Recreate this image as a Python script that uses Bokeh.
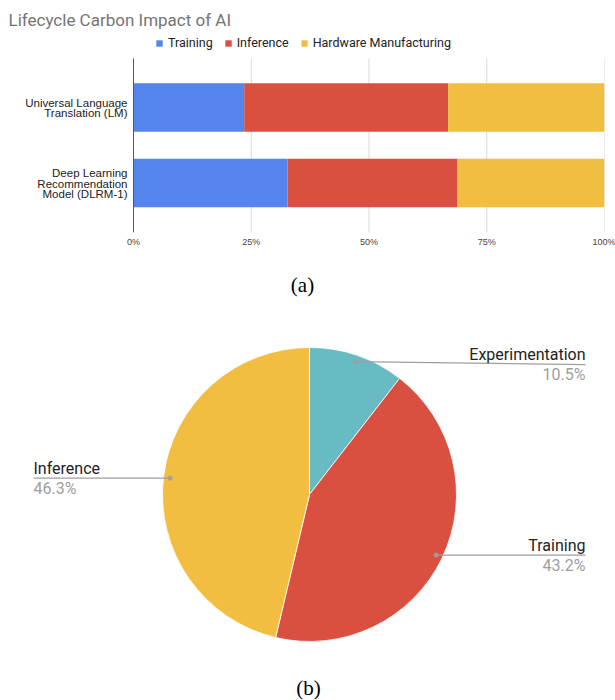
import numpy as np
from bokeh.plotting import figure
from bokeh.models import (Range1d, FixedTicker, Legend, LegendItem,
                          ColumnDataSource)
from bokeh.embed import file_html
from bokeh.resources import INLINE
from bokeh.core.properties import value

# ---------------- data ----------------
title_text = "Lifecycle Carbon Impact of AI"
model_keys = ["ULT", "DLRM"]
model_lines = [["Universal Language", "Translation (LM)"],
               ["Deep Learning", "Recommendation", "Model (DLRM-1)"]]
stages = ["Training", "Inference", "Hardware Manufacturing"]
training = [23.5, 32.7]
inference = [43.3, 36.1]
hardware = [33.2, 31.2]
stage_colors = ["#5484EC", "#DA5040", "#F1BE42"]
tick_values = [0, 25, 50, 75, 100]
tick_labels = ["0%", "25%", "50%", "75%", "100%"]

pie_labels = ["Experimentation", "Training", "Inference"]
pie_values = [10.5, 43.2, 46.3]
pie_colors = ["#68BBC2", "#DA5040", "#F1BE42"]

# ---------------- figure (a) ----------------
W1, H1 = 615, 300
bar_px = 471            # pixels spanned by 0..100 %
label_px = 133          # room left of 0 % for category names
frame_top, frame_bottom = 30, 232
band_px = 75.5          # pixels per category band
first_center_px = 107   # screen y of first category centre
px_per_unit = bar_px / 100.0
x_start = -label_px / px_per_unit

n_cat = len(model_keys)
cat_pos = [n_cat - 1 - i for i in range(n_cat)]          # top to bottom
top_val = cat_pos[0] + (first_center_px - frame_top) / band_px
bot_val = top_val - (frame_bottom - frame_top) / band_px

src = ColumnDataSource(dict(model=model_keys, pos=cat_pos, Training=training,
                            Inference=inference, Hardware=hardware))

p1 = figure(width=W1, height=H1, output_backend="svg", toolbar_location=None,
            x_range=Range1d(x_start, 100), y_range=Range1d(bot_val, top_val),
            min_border_left=0, min_border_right=W1 - label_px - bar_px,
            min_border_top=frame_top, min_border_bottom=H1 - frame_bottom)
p1.outline_line_color = None
renderers = p1.hbar_stack(["Training", "Inference", "Hardware"], y="pos",
                          height=0.645, color=stage_colors, source=src,
                          line_color=None)

# category names (one row per text line)
tx, ty, toff, ttxt = [], [], [], []
for pos, lines in zip(cat_pos, model_lines):
    n = len(lines)
    for i, line in enumerate(lines):
        tx.append(-6 / px_per_unit)
        ty.append(pos)
        toff.append((i - (n - 1) / 2) * 10.9 + 0.5)
        ttxt.append(line)
p1.text(x=tx, y=ty, text=ttxt, y_offset=toff, text_align="right",
        text_baseline="middle", text_font=value("Liberation Sans"),
        text_font_size="11.5px", text_color="#222222")

# chart area proper starts at the top gridline level (below the legend row)
area_top = cat_pos[0] + (first_center_px - 58) / band_px
p1.segment(x0=[0], y0=[bot_val], x1=[0], y1=[area_top],
           line_color="#555555", line_width=1)
p1.segment(x0=tick_values[1:], y0=[bot_val] * 4, x1=tick_values[1:],
           y1=[area_top] * 4, line_color="#D9D9D9", line_width=1, level="underlay")

p1.yaxis.visible = False
p1.xaxis.ticker = FixedTicker(ticks=tick_values)
p1.xaxis.major_label_overrides = {v: l for v, l in zip(tick_values, tick_labels)}
p1.xaxis.axis_line_color = None
p1.xaxis.major_tick_line_color = None
p1.xaxis.minor_tick_line_color = None
p1.xaxis.major_tick_out = 0
p1.xaxis.major_tick_in = 0
p1.xaxis.minor_tick_out = 0
p1.xaxis.major_label_text_font = "Liberation Sans"
p1.xaxis.major_label_text_font_size = "9px"
p1.xaxis.major_label_text_color = "#444444"
p1.xaxis.major_label_standoff = 4
p1.xaxis.axis_label = "(a)"
p1.xaxis.axis_label_text_font = "Liberation Serif"
p1.xaxis.axis_label_text_font_size = "21px"
p1.xaxis.axis_label_text_font_style = "normal"
p1.xaxis.axis_label_text_color = "#000000"
p1.xaxis.axis_label_standoff = 23

p1.grid.visible = False

p1.title.text = title_text
p1.title.text_font = "Roboto"
p1.title.text_font_size = "17px"
p1.title.text_font_style = "normal"
p1.title.text_color = "#757575"
p1.title.offset = 8
p1.title.standoff = 2

legend = Legend(items=[LegendItem(label=s, renderers=[r]) for s, r in zip(stages, renderers)],
                orientation="horizontal",
                location=(155, frame_bottom - 50),
                label_text_font="Roboto", label_text_font_size="12.5px",
                label_text_color="#222222", glyph_width=8, glyph_height=8,
                label_height=14, label_standoff=5, spacing=11, padding=0,
                margin=0, border_line_color=None, background_fill_alpha=0)
p1.add_layout(legend)

# ---------------- figure (b) ----------------
W2, H2 = 615, 400
cx, cy, r = 309, 206, 147
fr = np.array(pie_values) / np.sum(pie_values)
cum = np.concatenate([[0], np.cumsum(fr)])
starts = np.pi / 2 - 2 * np.pi * cum[:-1]
ends = np.pi / 2 - 2 * np.pi * cum[1:]
mids = (starts + ends) / 2

p2 = figure(width=W2, height=H2, output_backend="svg", toolbar_location=None,
            x_range=Range1d(0, W2), y_range=Range1d(0, H2), min_border=0)
p2.axis.visible = False
p2.grid.visible = False
p2.outline_line_color = None

p2.wedge(x=cx, y=cy, radius=r, start_angle=starts, end_angle=ends,
         direction="clock", fill_color=pie_colors, line_color="white",
         line_width=0.8)

dot_x = cx + 0.955 * r * np.cos(mids)
dot_y = cy + 0.955 * r * np.sin(mids)
right = np.cos(mids) > 0
end_x = np.where(right, 585, 33)
for i in range(len(pie_labels)):
    p2.line([dot_x[i], end_x[i]], [dot_y[i], dot_y[i] - (3 if i == 0 else 0)],
            line_color="#9E9E9E", line_width=1.2)
p2.scatter(dot_x, dot_y, size=4, color="#9E9E9E")

align = ["right" if rr else "left" for rr in right]
lab_y = dot_y - np.array([3, 0, 0])
p2.text(x=end_x, y=lab_y + 10, text=pie_labels, text_align=align,
        text_baseline="middle", text_font=value("Roboto"),
        text_font_size="16px", text_color="#222222")
p2.text(x=end_x, y=lab_y - 10, text=[f"{v:.1f}%" for v in pie_values],
        text_align=align, text_baseline="middle", text_font=value("Roboto"),
        text_font_size="16px", text_color="#9E9E9E")
p2.text(x=[cx - 1], y=[13], text=["(b)"], text_align="center",
        text_baseline="middle", text_font=value("Liberation Serif"),
        text_font_size="21px", text_color="#000000")

open("out.html", "w").write(file_html([p1, p2], INLINE))
